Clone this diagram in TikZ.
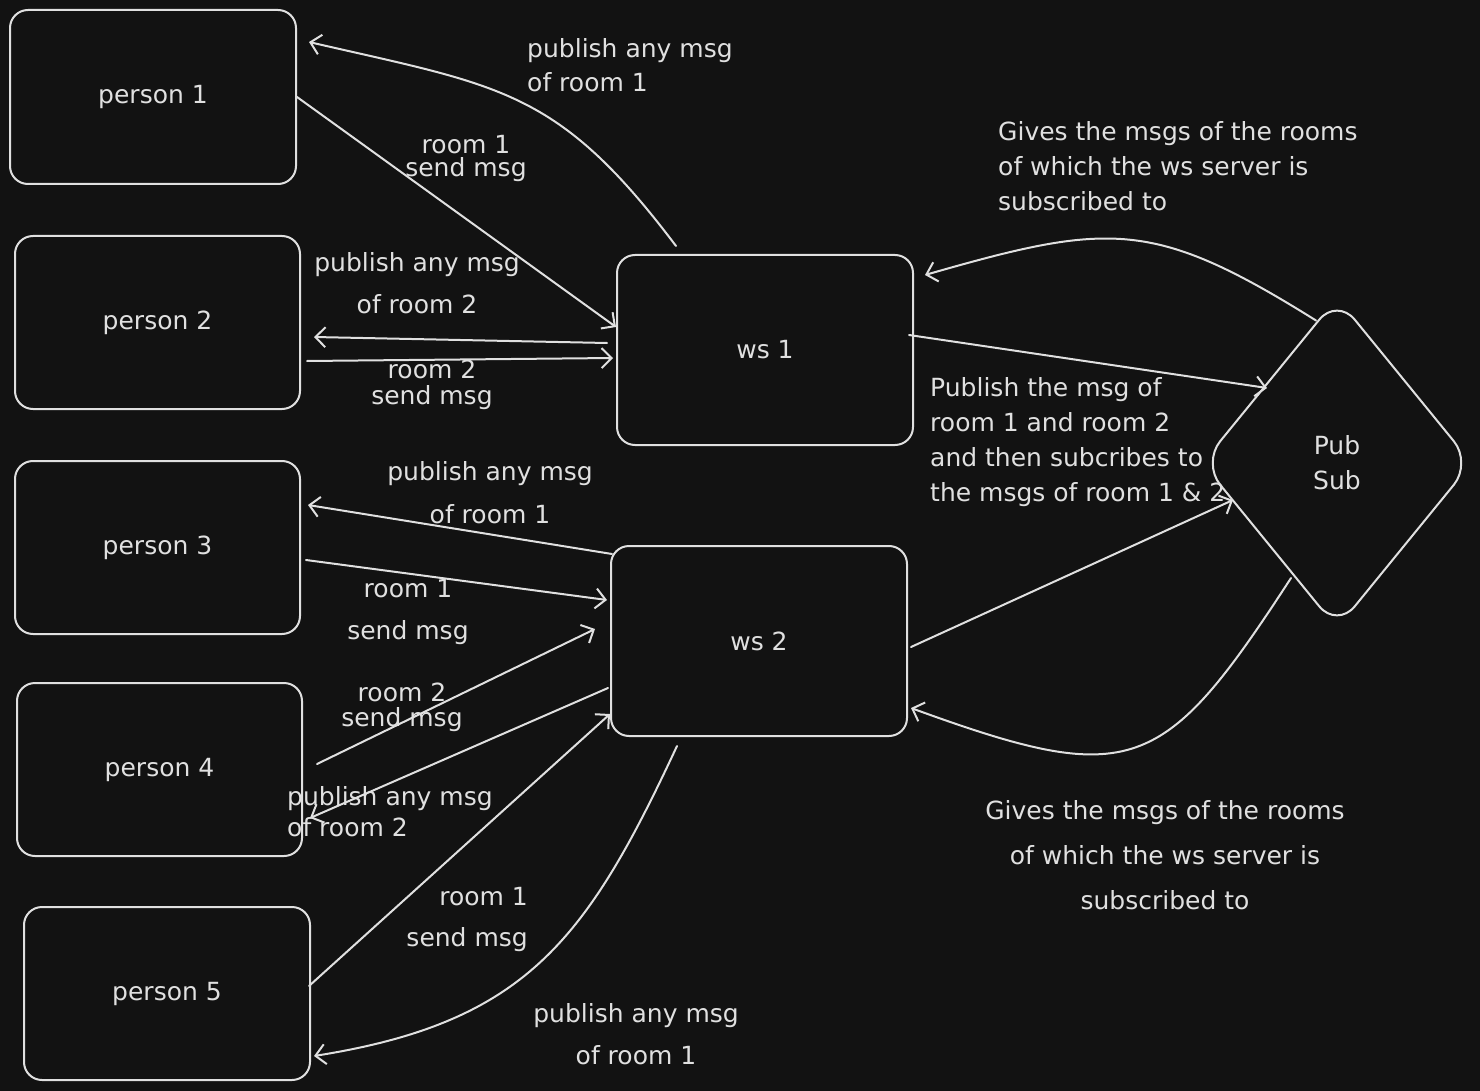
\documentclass[tikz,border=0pt]{standalone}
\usepackage{fontspec}
\setmainfont{DejaVu Sans}
\usetikzlibrary{arrows.meta,shapes.geometric}
\definecolor{bg}{HTML}{121212}
\definecolor{fg}{HTML}{E0E0E0}
\begin{document}
\begin{tikzpicture}[x=1pt, y=-1pt, line join=round, line cap=round, >={Straight Barb[length=10pt,width=20pt]},
  box/.style={draw=fg, line width=2pt, rounded corners=18pt, inner sep=0, text=fg, font=\fontsize{25}{30}\selectfont},
  lbl/.style={text=fg, inner sep=0, font=\fontsize{25}{#1}\selectfont}, lbl/.default=35,
  link/.style={draw=fg, line width=2pt, ->}]
  \fill[bg] (0,0) rectangle (1480,1091);
  % persons
  \node[box, minimum width=286, minimum height=174] (p1) at (153,97) {person 1};
  \node[box, minimum width=285, minimum height=173] (p2) at (157.5,322.5) {person 2};
  \node[box, minimum width=285, minimum height=173] (p3) at (157.5,547.5) {person 3};
  \node[box, minimum width=285, minimum height=173] (p4) at (159.5,769.5) {person 4};
  \node[box, minimum width=286, minimum height=173] (p5) at (167,993.5) {person 5};
  % servers
  \node[box, minimum width=296, minimum height=190] (ws1) at (765,350) {ws 1};
  \node[box, minimum width=296, minimum height=190] (ws2) at (759,641) {ws 2};
  \node[box, diamond, aspect=0.81, rounded corners=28pt, minimum width=270, minimum height=331, align=center, font=\fontsize{25}{35}\selectfont] (ps) at (1337,463) {Pub\\Sub};
  % ws 1 side
  \draw[link] (p1.east) -- ([yshift=23]ws1.west);
  \draw[link] ([xshift=-89,yshift=8]ws1.north) to[out=127,in=-13,looseness=1.2] ([xshift=12,yshift=55]p1.east);
  \draw[link] ([xshift=-9,yshift=7]ws1.west) -- ([xshift=13,yshift=-14.5]p2.east);
  \draw[link] ([xshift=6,yshift=-38.5]p2.east) -- ([xshift=-3,yshift=-8]ws1.west);
  \draw[link] ([xshift=-5,yshift=15]ws1.east) -- ([xshift=66,yshift=75]ps.west);
  \draw[link] ([xshift=-21,yshift=-24]ps.north) to[out=148,in=16,looseness=1.25] ([xshift=11,yshift=-21]ws1.north east);
  % ws 2 side
  \draw[link] ([xshift=3,yshift=-6]ws2.east) -- ([xshift=32,yshift=-37]ps.west);
  \draw[link] ([xshift=90,yshift=-115]ps.west) to[out=237,in=-20,looseness=1.5] ([xshift=3,yshift=-67]ws2.east);
  \draw[link] ([xshift=2,yshift=-9]ws2.north west) -- ([xshift=7,yshift=42.5]p3.east);
  \draw[link] ([xshift=5,yshift=-12.5]p3.east) -- ([xshift=-3,yshift=41]ws2.west);
  \draw[link] ([xshift=14,yshift=5.5]p4.east) -- ([xshift=-15,yshift=12]ws2.west);
  \draw[link] ([xshift=-2,yshift=-47]ws2.west) -- ([xshift=7,yshift=-48.5]p4.east);
  \draw[link] ([xshift=-2,yshift=7.5]p5.east) -- ([yshift=23]ws2.south west);
  \draw[link] ([xshift=-82,yshift=-9]ws2.south) to[out=245,in=9,looseness=1.15] ([xshift=3,yshift=-62.5]p5.east);
  % labels
  \node[lbl=34, align=left, anchor=west] (l1) at (527,65) {publish any msg\\of room 1};
  \node[lbl=23, align=center] (l2) at (466,158) {room 1\\send msg};
  \node[lbl=42, align=center] (l3) at (417,283) {publish any msg\\of room 2};
  \node[lbl=26, align=center] (l4) at (432,385) {room 2\\send msg};
  \node[lbl, align=left, anchor=west] (l5) at (930,442.5) {Publish the msg of\\room 1 and room 2\\and then subcribes to\\the msgs of room 1 \& 2};
  \node[lbl, align=left, anchor=west] (l6) at (998,166) {Gives the msgs of the rooms\\of which the ws server is\\subscribed to};
  \node[lbl=45, align=center] (l7) at (1165,855) {Gives the msgs of the rooms\\of which the ws server is\\subscribed to};
  \node[lbl=43, align=center] (l8) at (490,493) {publish any msg\\of room 1};
  \node[lbl=42, align=center] (l9) at (408,612) {room 1\\send msg};
  \node[lbl=25, align=center] (l10) at (402,707) {room 2\\send msg};
  \node[lbl=31, align=left, anchor=west] (l11) at (287,812) {publish any msg\\of room 2};
  \node[lbl=41, align=right, anchor=east] (l12) at (528,919) {room 1\\send msg};
  \node[lbl=42, align=center] (l13) at (636,1034) {publish any msg\\of room 1};
\end{tikzpicture}
\end{document}
